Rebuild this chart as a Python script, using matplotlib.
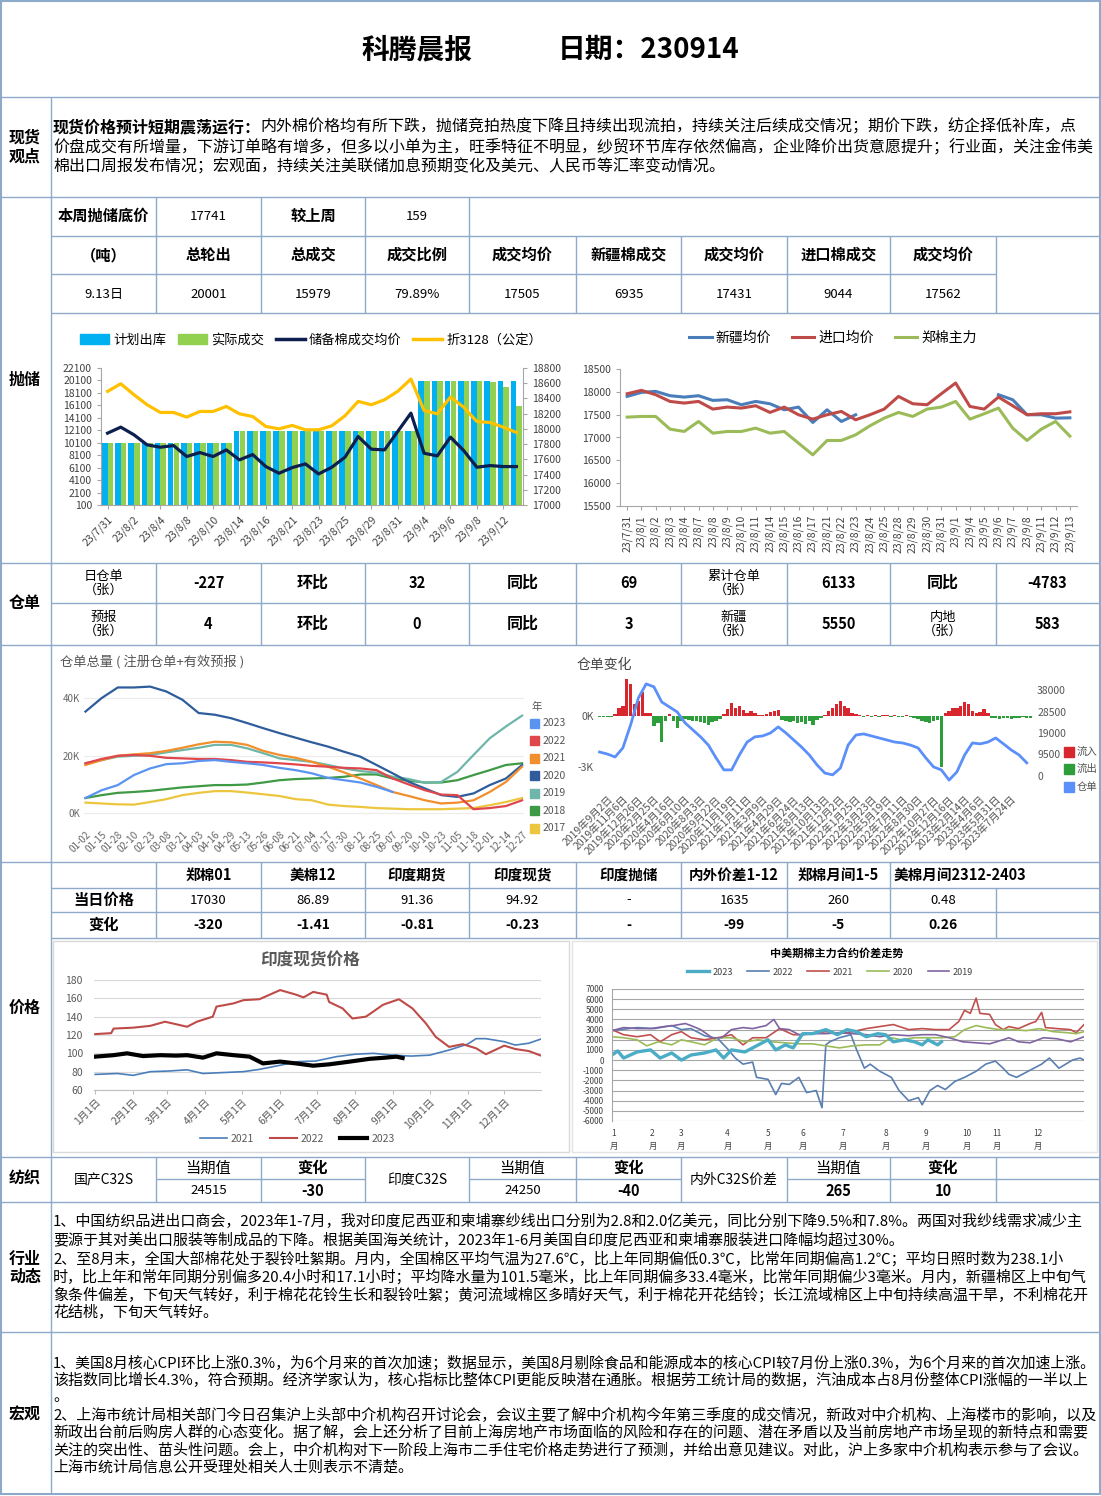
import numpy as np
import matplotlib
matplotlib.use('Agg')
import matplotlib.pyplot as plt
from matplotlib.patches import Rectangle, Patch
from matplotlib.lines import Line2D

plt.rcParams['font.family'] = ['Noto Sans CJK SC', 'DejaVu Sans']
plt.rcParams['axes.unicode_minus'] = False

# ---------------- 表格数据 ----------------
title_name = '科腾晨报'
title_date = '日期：230914'

view_bold = '现货价格预计短期震荡运行：'
view_lines = ['内外棉价格均有所下跌，抛储竞拍热度下降且持续出现流拍，持续关注后续成交情况；期价下跌，纺企择低补库，点',
              '价盘成交有所增量，下游订单略有增多，但多以小单为主，旺季特征不明显，纱贸环节库存依然偏高，企业降价出货意愿提升；行业面，关注金伟美',
              '棉出口周报发布情况；宏观面，持续关注美联储加息预期变化及美元、人民币等汇率变动情况。']

paochu_row1 = ['本周抛储底价', '17741', '较上周', '159']
paochu_head = ['（吨）', '总轮出', '总成交', '成交比例', '成交均价', '新疆棉成交', '成交均价', '进口棉成交', '成交均价']
paochu_vals = ['9.13日', '20001', '15979', '79.89%', '17505', '6935', '17431', '9044', '17562']

cangdan_row1 = ['日仓单\n（张）', '-227', '环比', '32', '同比', '69', '累计仓单\n（张）', '6133', '同比', '-4783']
cangdan_row2 = ['预报\n（张）', '4', '环比', '0', '同比', '3', '新疆\n（张）', '5550', '内地\n（张）', '583']

price_head = ['', '郑棉01', '美棉12', '印度期货', '印度现货', '印度抛储', '内外价差1-12', '郑棉月间1-5', '美棉月间2312-2403']
price_today = ['当日价格', '17030', '86.89', '91.36', '94.92', '-', '1635', '260', '0.48']
price_change = ['变化', '-320', '-1.41', '-0.81', '-0.23', '-', '-99', '-5', '0.26']

yarn_names = ['国产C32S', '印度C32S', '内外C32S价差']
yarn_now = ['24515', '24250', '265']
yarn_chg = ['-30', '-40', '10']

industry_lines = ['1、中国纺织品进出口商会，2023年1-7月，我对印度尼西亚和柬埔寨纱线出口分别为2.8和2.0亿美元，同比分别下降9.5%和7.8%。两国对我纱线需求减少主',
                  '要源于其对美出口服装等制成品的下降。根据美国海关统计，2023年1-6月美国自印度尼西亚和柬埔寨服装进口降幅均超过30%。',
                  '2、至8月末，全国大部棉花处于裂铃吐絮期。月内，全国棉区平均气温为27.6℃，比上年同期偏低0.3℃，比常年同期偏高1.2℃；平均日照时数为238.1小',
                  '时，比上年和常年同期分别偏多20.4小时和17.1小时；平均降水量为101.5毫米，比上年同期偏多33.4毫米，比常年同期偏少3毫米。月内，新疆棉区上中旬气',
                  '象条件偏差，下旬天气转好，利于棉花花铃生长和裂铃吐絮；黄河流域棉区多晴好天气，利于棉花开花结铃；长江流域棉区上中旬持续高温干旱，不利棉花开',
                  '花结桃，下旬天气转好。']

macro_lines = ['1、美国8月核心CPI环比上涨0.3%，为6个月来的首次加速；数据显示，美国8月剔除食品和能源成本的核心CPI较7月份上涨0.3%，为6个月来的首次加速上涨。',
               '该指数同比增长4.3%，符合预期。经济学家认为，核心指标比整体CPI更能反映潜在通胀。根据劳工统计局的数据，汽油成本占8月份整体CPI涨幅的一半以上',
               '。',
               '2、上海市统计局相关部门今日召集沪上头部中介机构召开讨论会，会议主要了解中介机构今年第三季度的成交情况，新政对中介机构、上海楼市的影响，以及',
               '新政出台前后购房人群的心态变化。据了解，会上还分析了目前上海房地产市场面临的风险和存在的问题、潜在矛盾以及当前房地产市场呈现的新特点和需要',
               '关注的突出性、苗头性问题。会上，中介机构对下一阶段上海市二手住宅价格走势进行了预测，并给出意见建议。对此，沪上多家中介机构表示参与了会议。',
               '上海市统计局信息公开受理处相关人士则表示不清楚。']

# ---------------- 图1 抛储 ----------------
dates1 = ['23/7/31', '23/8/1', '23/8/2', '23/8/3', '23/8/4', '23/8/7', '23/8/8', '23/8/9', '23/8/10', '23/8/11',
          '23/8/14', '23/8/15', '23/8/16', '23/8/17', '23/8/21', '23/8/22', '23/8/23', '23/8/24', '23/8/25', '23/8/28',
          '23/8/29', '23/8/30', '23/8/31', '23/9/1', '23/9/4', '23/9/5', '23/9/6', '23/9/7', '23/9/8', '23/9/11',
          '23/9/12', '23/9/13']
plan_out = [10000, 10000, 10000, 10000, 10000, 10000, 10000, 10000, 10000, 10000,
            12000, 12000, 12000, 12000, 12000, 12000, 12000, 12000, 12000, 12000,
            12000, 12000, 12000, 12000, 20000, 20000, 20000, 20000, 20000, 20000,
            20000, 20001]
deal_out = [10000, 10000, 10000, 10000, 10000, 10000, 10000, 10000, 10000, 10000,
            12000, 12000, 12000, 12000, 12000, 12000, 12000, 12000, 12000, 12000,
            12000, 12000, 12000, 12000, 20000, 20000, 20000, 20000, 20000, 19800,
            19100, 15979]
deal_price = [17944, 18023, 17922, 17790, 17759, 17781, 17637, 17689, 17637, 17724,
              17593, 17663, 17505, 17417, 17492, 17540, 17408, 17496, 17628, 17900,
              17733, 17724, 17966, 18207, 17680, 17645, 17891, 17716, 17496, 17518,
              17505, 17505]
price_3128 = [18493, 18593, 18449, 18317, 18216, 18216, 18155, 18229, 18229, 18295,
              18198, 18163, 18032, 18001, 18045, 17988, 17988, 18040, 18172, 18361,
              18317, 18383, 18493, 18655, 18242, 18198, 18418, 18286, 18097, 18084,
              18023, 17953]

# ---------------- 图2 现货价格 ----------------
nan = np.nan
xinjiang_avg = [17900, 17988, 18010, 17915, 17885, 17915, 17812, 17827, 17717, 17790,
                17739, 17607, 17666, 17329, 17607, 17351, 17498, nan, nan, nan,
                nan, nan, nan, nan, nan, nan, 17937, 17827, 17498, 17498,
                17424, 17431]
import_avg = [17958, 18032, 17937, 17790, 17754, 17790, 17622, 17666, 17644, 17695,
              17549, 17666, 17498, 17402, 17498, 17571, 17388, 17498, 17622, 17900,
              17739, 17717, 17958, 18193, 17680, 17622, 17885, 17695, 17498, 17520,
              17520, 17562]
zce_main = [17446, 17461, 17461, 17183, 17132, 17351, 17095, 17132, 17132, 17205,
            17095, 17132, 16876, 16620, 16935, 16935, 17059, 17256, 17424, 17549,
            17461, 17622, 17666, 17790, 17402, 17520, 17644, 17205, 16935, 17183,
            17351, 17030]

# ---------------- 图3 仓单总量 (K) ----------------
labels3 = ['01-02', '01-15', '01-28', '02-10', '02-23', '03-08', '03-21', '04-03', '04-16', '04-29',
           '05-13', '05-26', '06-08', '06-21', '07-04', '07-17', '07-30', '08-12', '08-25', '09-07',
           '09-20', '10-10', '10-23', '11-05', '11-18', '12-01', '12-14', '12-27']
years3 = ['2023', '2022', '2021', '2020', '2019', '2018', '2017']
colors3 = ['#5b94f0', '#e0474c', '#f28e2b', '#2f5d9c', '#6db6a9', '#3e9a45', '#ecc63e']
wr_2023 = [5.2, 7.9, 9.7, 13.2, 15.5, 17.0, 17.3, 18.1, 18.4, 17.8, 17.3, 16.7, 15.7, 14.9, 13.8, 12.2, 11.4, 10.6,
           9.1, 7.3, nan, nan, nan, nan, nan, nan, nan, nan]
wr_2022 = [17.3, 18.8, 19.9, 20.2, 19.9, 19.2, 19.0, 18.8, 18.8, 18.4, 17.8, 17.6, 17.3, 16.9, 16.4, 16.1, 15.7, 15.5,
           14.9, 12.0, 9.9, 7.9, 6.4, 6.2, 1.3, 1.7, 2.4, 4.4]
wr_2021 = [16.7, 18.4, 19.9, 20.4, 20.8, 21.6, 22.7, 23.9, 24.8, 24.6, 23.7, 21.6, 20.2, 19.2, 17.8, 16.1, 14.1, 12.0,
           9.7, 7.3, 5.9, 4.4, 3.3, 3.6, 4.4, 7.3, 10.8, 16.1]
wr_2020 = [35.3, 40.0, 43.7, 43.7, 44.0, 42.3, 39.4, 34.8, 34.2, 33.0, 31.3, 29.5, 27.8, 26.2, 24.6, 23.1, 21.3, 19.6,
           16.7, 13.8, 10.8, 8.5, 6.2, 5.6, 6.8, 9.7, 12.0, 16.7]
wr_2019 = [17.3, 18.4, 19.6, 19.9, 20.2, 21.1, 21.9, 22.7, 23.7, 23.7, 22.5, 20.8, 19.0, 18.4, 17.8, 16.7, 15.5, 14.6,
           14.0, 12.6, 11.8, 10.5, 10.8, 14.3, 20.2, 26.0, 30.1, 33.9]
wr_2018 = [5.2, 6.2, 7.0, 7.3, 7.7, 8.3, 8.9, 9.3, 9.7, 9.7, 9.9, 10.6, 11.4, 11.8, 12.0, 12.2, 12.6, 13.4,
           13.4, 12.0, 11.2, 10.6, 10.6, 11.4, 13.2, 14.9, 16.7, 17.3]
wr_2017 = [3.6, 3.3, 3.0, 2.9, 3.8, 4.8, 6.2, 7.0, 7.6, 7.6, 7.1, 6.5, 5.9, 4.8, 4.4, 2.9, 2.4, 2.1,
           1.7, 1.5, 1.3, 1.3, 1.3, 1.5, 1.7, 2.7, 3.8, 5.2]

# ---------------- 图4 仓单变化 ----------------
labels4 = ['2019年9月2日', '2019年11月6日', '2019年12月26日', '2020年2月25日', '2020年4月16日', '2020年6月10日',
           '2020年8月3日', '2020年9月22日', '2020年11月19日', '2021年1月11日', '2021年3月9日', '2021年4月29日',
           '2021年6月24日', '2021年8月13日', '2021年10月13日', '2021年12月2日', '2022年1月25日', '2022年3月23日',
           '2022年5月19日', '2022年7月11日', '2022年8月30日', '2022年10月27日', '2022年12月16日', '2023年2月14日',
           '2023年4月6日', '2023年5月31日', '2023年7月24日']
# 仓单量(K)，每半个标签间隔一个值
stock4 = [10.6, 9.7, 8.4, 12.4, 22.6, 34.5, 40.7, 39.4, 32.7, 30.5, 28.3, 23.5, 20.4, 17.3, 13.7, 8.0,
          2.7, 2.7, 9.3, 15.0, 17.3, 17.7, 19.0, 21.7, 19.0, 15.9, 12.8, 9.3, 4.9, 1.3, 0.5, 3.5,
          13.7, 18.1, 18.6, 17.7, 16.8, 15.9, 15.0, 14.6, 13.7, 12.4, 8.0, 4.0, 2.7, -1.8, 1.8, 9.3,
          14.6, 14.2, 15.0, 16.8, 14.2, 11.5, 9.3, 5.8]
# 净流入/流出(K)，每1/4标签间隔一个值
flow4 = [-0.05, -0.05, -0.05, -0.05, 0.1, 0.45, 0.6, 2.2, 1.9, 0.7, 0.9, 1.4, 0.2, 0.15, -0.6, -0.4,
         -1.5, -0.3, 0.1, -0.3, -0.7, -0.3, -0.2, -0.25, -0.3, -0.3, -0.35, -0.4, -0.5, -0.35, -0.3, -0.15,
         0.1, 0.4, 0.75, 0.5, 0.6, 0.35, 0.2, 0.3, 0.15, 0.05, 0.05, 0.1, 0.25, 0.3, 0.35, -0.25,
         -0.3, -0.35, -0.3, -0.4, -0.35, -0.45, -0.3, -0.5, -0.25, -0.1, 0.05, 0.3, 0.45, 0.7, 0.9, 0.6,
         0.5, 0.2, 0.1, 0.05, -0.05, 0.05, -0.05, 0.05, -0.05, 0.05, 0.05, -0.05, 0.05, -0.05, -0.05, 0.05,
         -0.05, -0.1, -0.2, -0.3, -0.35, -0.4, -0.3, -0.25, -3.0, 0.2, 0.3, 0.45, 0.5, 0.6, 0.8, 0.7,
         0.3, 0.15, 0.25, 0.4, 0.15, -0.1, -0.1, -0.15, -0.1, -0.1, -0.15, -0.1, -0.1, -0.05, -0.1, -0.1]

# ---------------- 图5 印度现货价格 ----------------
month_days = [0, 31, 59, 90, 120, 151, 181, 212, 243, 273, 304, 334]
month_labels5 = ['1月1日', '2月1日', '3月1日', '4月1日', '5月1日', '6月1日', '7月1日', '8月1日', '9月1日',
                 '10月1日', '11月1日', '12月1日']
day_2021 = [0, 18, 31, 45, 60, 75, 88, 104, 121, 134, 151, 166, 180, 197, 212, 227, 243, 258, 273, 289,
            304, 311, 319, 334, 343, 354, 364]
india_2021 = [77, 78, 76, 80, 80.7, 82, 78, 79, 80, 82.5, 87, 91, 91.6, 96.4, 99, 100, 98, 97, 98, 103.6,
              110, 116, 116, 112.7, 109, 111, 115.6]
day_2022 = [0, 13, 15, 31, 45, 57, 75, 83, 96, 99, 113, 121, 134, 151, 164, 170, 178, 189, 191, 202,
            210, 221, 227, 235, 248, 259, 270, 278, 289, 300, 311, 319, 327, 334, 343, 354, 364]
india_2022 = [121, 122, 127, 128, 130, 134.5, 129, 134.5, 140, 151, 154.5, 158, 159, 169, 164, 161, 167, 164,
              156, 149, 138, 140, 145.5, 153, 159, 149, 132.7, 118, 107, 110, 105.5, 99, 104, 108.4, 104.7,
              102.5, 97.5]
day_2023 = [0, 15, 26, 39, 53, 66, 75, 88, 99, 113, 126, 137, 151, 164, 178, 191, 208, 224, 237, 246, 251]
india_2023 = [96.4, 98, 100, 97, 98, 97.5, 98, 95.3, 100, 98, 96.4, 89, 91, 89, 86.5, 88, 91, 94, 95.3,
              96.4, 94.9]

# ---------------- 图6 中美期棉价差 ----------------
month_idx6 = [1, 21, 36, 60, 81, 99, 120, 142, 163, 184, 200, 221]
month_labels6 = ['1\n月', '2\n月', '3\n月', '4\n月', '5\n月', '6\n月', '7\n月', '8\n月', '9\n月', '10\n月',
                 '11\n月', '12\n月']
sx_2023 = [0, 3, 6, 13, 20, 25, 31, 36, 41, 48, 54, 58, 62, 69, 76, 81, 85, 90, 94, 99, 104, 111, 117,
           122, 127, 132, 138, 142, 146, 152, 157, 161, 164, 169, 171]
sp_2023 = [500, 900, 200, 800, 1000, 200, 700, 0, 500, 700, 1000, 200, 1000, 800, 1500, 2000, 1000, 1500,
           1200, 2600, 2600, 3000, 2500, 3000, 2800, 2300, 2600, 2500, 1800, 2000, 1800, 1500, 2000, 1500, 1800]
sx_2022 = [0, 13, 22, 31, 36, 41, 48, 55, 60, 64, 68, 73, 75, 81, 85, 88, 92, 97, 101, 106, 109, 111, 113,
           118, 124, 127, 131, 134, 139, 145, 149, 154, 159, 161, 165, 169, 173, 178, 183, 189, 194, 199, 203,
           206, 210, 213, 218, 223, 227, 232, 239, 243, 245]
sp_2022 = [2900, 3200, 3100, 3400, 3000, 3100, 2400, 2100, 1100, 200, -400, -200, -1700, -1900, -3400, -2300,
           -2400, -1700, -3200, -3000, -4700, 1500, 1800, 2200, 2500, 1000, -800, -400, -1100, -1700, -3000,
           -4000, -3700, -4400, -3000, -2500, -2900, -2100, -1700, -1100, -400, -100, -800, -1400, -1700, -1400,
           -900, -400, 200, -800, 0, 200, 0]
sx_2021 = [0, 6, 13, 20, 25, 31, 36, 41, 48, 55, 62, 68, 73, 80, 87, 94, 99, 104, 111, 118, 125, 132, 139,
           146, 154, 161, 168, 175, 180, 183, 186, 189, 191, 196, 199, 203, 206, 211, 217, 220, 223, 225, 231,
           238, 241, 245]
sp_2021 = [3000, 2500, 2300, 2500, 1800, 2500, 2800, 2200, 2000, 2200, 2500, 1500, 2200, 2200, 3100, 2500,
           2500, 2600, 2800, 2600, 2800, 3100, 3300, 3500, 3000, 3100, 3000, 3000, 3800, 4900, 4600, 6100, 4600,
           4500, 3500, 3000, 3300, 3100, 3600, 3800, 4700, 3200, 3100, 3000, 2700, 3500]
sx_2020 = [0, 6, 13, 18, 24, 31, 36, 41, 48, 55, 62, 69, 76, 83, 90, 97, 104, 111, 118, 125, 132, 139, 145,
           150, 157, 164, 171, 178, 183, 189, 194, 201, 208, 215, 222, 229, 236, 241, 245]
sp_2020 = [2300, 2200, 2000, 1400, 1800, 1500, 2000, 1800, 1500, 2200, 2200, 1800, 2000, 1800, 1700, 1600,
           1600, 1400, 1200, 1400, 1500, 1500, 2200, 2000, 2200, 2200, 2200, 2300, 3000, 3400, 3200, 3000, 3000,
           2900, 3100, 2800, 2700, 2600, 2800]
sx_2019 = [0, 6, 13, 20, 27, 32, 38, 41, 46, 52, 57, 62, 68, 73, 80, 84, 87, 92, 97, 104, 111, 118, 125, 132,
           139, 146, 154, 161, 168, 175, 182, 189, 196, 203, 206, 211, 217, 224, 231, 238, 245]
sp_2019 = [2900, 3200, 3100, 3100, 3300, 3400, 3600, 3400, 3000, 2200, 2200, 3000, 3200, 3100, 3400, 4000,
           3100, 3000, 2500, 2600, 2600, 2700, 2600, 2500, 2300, 2500, 2400, 2500, 2500, 2200, 1800, 1700, 1600,
           2000, 2200, 1800, 1700, 2200, 2100, 1800, 2300]

# ---------------- 画布 ----------------
W, H = 1101, 1496
fig = plt.figure(figsize=(W / 100, H / 100), dpi=100)
bg = fig.add_axes([0, 0, 1, 1])
bg.set_xlim(0, W)
bg.set_ylim(H, 0)
bg.axis('off')

LINE = '#8eaacb'
fit_list = []


def hl(y, x0=0, x1=W):
    bg.plot([x0, x1], [y, y], color=LINE, lw=1, zorder=5, solid_capstyle='butt')


def vl(x, y0, y1):
    bg.plot([x, x], [y0, y1], color=LINE, lw=1, zorder=5, solid_capstyle='butt')


def txt(x, y, s, size=10, bold=False, ha='center', color='black', **kw):
    return bg.text(x, y, s, fontsize=size, fontweight='bold' if bold else 'normal',
                   ha=ha, va='center', color=color, **kw)


def new_ax(x0, y0, x1, y1):
    ax = fig.add_axes([x0 / W, 1 - y1 / H, (x1 - x0) / W, (y1 - y0) / H])
    ax.set_facecolor('none')
    return ax


def style_ax(ax, spines=('left', 'bottom'), color='#a6a6a6', lab='#404040', size=7.5):
    for s in ax.spines:
        ax.spines[s].set_visible(s in spines)
        ax.spines[s].set_color(color)
    ax.tick_params(colors=color, labelcolor=lab, labelsize=size, length=3, width=0.8)


# 外框与分区线
bg.add_patch(Rectangle((1, 1), W - 2, H - 3, fill=False, edgecolor=LINE, lw=1.5, zorder=5))
for y in [97, 197, 563, 645, 862, 1157, 1202, 1332]:
    hl(y)
vl(51, 97, H - 2)

cols = [51, 156, 261, 365, 469, 576, 681, 787, 890, 996, 1099]
mid = [(cols[i] + cols[i + 1]) / 2 for i in range(10)]

# 标题
txt(417, 50, title_name, size=20, bold=True)
txt(558, 50, title_date, size=20, bold=True, ha='left')

# 左侧栏标签
txt(25, 147, '现货\n观点', size=11.5, bold=True, linespacing=1.25)
txt(25, 380, '抛储', size=11.5, bold=True)
txt(25, 603, '仓单', size=11.5, bold=True)
txt(25, 1008, '价格', size=11.5, bold=True)
txt(25, 1179, '纺织', size=11.5, bold=True)
txt(25, 1268, '行业\n动态', size=11.5, bold=True, linespacing=1.2)
txt(25, 1415, '宏观', size=11.5, bold=True)

# 现货观点
vfs = 11.5
txt(53, 127, view_bold, size=vfs, bold=True, ha='left')
off = len(view_bold) * vfs * 100 / 72
fit_list.append((txt(53 + off, 127, view_lines[0], size=vfs, ha='left'), 1097 - 53 - off))
for y, s in zip([147, 167], view_lines[1:]):
    fit_list.append((txt(53, y, s, size=vfs, ha='left'), 1044))

# 抛储表
for x in cols[1:5]:
    vl(x, 197, 236)
hl(236, 51, 1099)
hl(274, 51, 996)
hl(313, 51, 1099)
for x in cols[1:10]:
    vl(x, 236, 313)
for i, s in enumerate(paochu_row1):
    txt(mid[i], 216, s, size=11 if i % 2 == 0 else 9.5, bold=(i % 2 == 0))
for i, s in enumerate(paochu_head):
    txt(mid[i], 255, s, size=11, bold=True)
for i, s in enumerate(paochu_vals):
    txt(mid[i], 294, s, size=9.5)

# 仓单表
for x in cols[1:10]:
    vl(x, 563, 645)
hl(603, 51, 1099)
for y, row in [(583, cangdan_row1), (624, cangdan_row2)]:
    for i, s in enumerate(row):
        if '\n' in s:
            txt(mid[i], y, s, size=9.5, linespacing=1.05)
        elif s in ('同比', '环比'):
            txt(mid[i], y, s, size=11.5, bold=True)
        else:
            txt(mid[i], y, s, size=10.5, bold=True)

# 价格表
hl(888, 51, 1099)
hl(912, 51, 1099)
hl(938, 51, 1099)
for x in cols[1:9]:
    vl(x, 862, 938)
vl(996, 888, 938)
for i, s in enumerate(price_head):
    if i == 8:
        txt(894, 875, s, size=10.5, bold=True, ha='left')
    else:
        txt(mid[i], 875, s, size=10.5, bold=True)
for i, s in enumerate(price_today):
    txt(mid[i], 900, s, size=11 if i == 0 else 9.5, bold=(i == 0))
for i, s in enumerate(price_change):
    txt(mid[i], 925, s, size=11 if i == 0 else 10, bold=True)

# 纺织表
for x in cols[1:10]:
    vl(x, 1157, 1202)
for a, b in [(156, 365), (469, 681), (787, 1099)]:
    hl(1179, a, b)
for k in range(3):
    c = 3 * k
    txt(mid[c], 1180, yarn_names[k], size=10)
    txt(mid[c + 1], 1168, '当期值', size=11)
    txt(mid[c + 2], 1168, '变化', size=11, bold=True)
    txt(mid[c + 1], 1191, yarn_now[k], size=10.5 if k == 2 else 9.5, bold=(k == 2))
    txt(mid[c + 2], 1191, yarn_chg[k], size=10.5, bold=True)

# 行业动态 与 宏观
for y, s in zip([1221, 1240, 1259, 1277, 1295, 1313], industry_lines):
    fit_list.append((txt(53, y, s, size=10.8, ha='left'), 1044))
for y, s in zip([1363, 1380, 1397, 1415, 1432, 1450, 1467], macro_lines):
    fit_list.append((txt(53, y, s, size=10.8, ha='left'), 1044))

# ---------------- 图1 ----------------
ax1 = new_ax(101, 368, 523, 505)
x1 = np.arange(len(dates1))
ax1.bar(x1 - 0.215, plan_out, width=0.42, color='#00b0f0', zorder=2)
ax1.bar(x1 + 0.215, deal_out, width=0.42, color='#92d050', zorder=2)
ax1.set_xlim(-0.5, len(dates1) - 0.5)
ax1.set_ylim(100, 22100)
ax1.set_yticks(np.arange(100, 22101, 2000))
ax1.set_xticks(x1[::2])
ax1.set_xticklabels(dates1[::2], rotation=45, ha='right', rotation_mode='anchor')
style_ax(ax1)
ax1r = ax1.twinx()
ax1r.plot(x1, deal_price, color='#0d1f4f', lw=2.3)
ax1r.plot(x1, price_3128, color='#ffc000', lw=2.3)
ax1r.set_ylim(17000, 18800)
ax1r.set_yticks(np.arange(17000, 18801, 200))
style_ax(ax1r, spines=('right',))
h1 = [Patch(color='#00b0f0'), Patch(color='#92d050'),
      Line2D([], [], color='#0d1f4f', lw=2.5), Line2D([], [], color='#ffc000', lw=2.5)]
ax1r.legend(h1, ['计划出库', '实际成交', '储备棉成交均价', '折3128（公定）'], loc='center',
            bbox_to_anchor=(311 / W, 1 - 340 / H), bbox_transform=fig.transFigure, ncol=4,
            frameon=False, fontsize=9.5, handlelength=2.2, handleheight=0.8, columnspacing=0.9,
            handletextpad=0.3)

# ---------------- 图2 ----------------
ax2 = new_ax(620, 369, 1077, 506)
x2 = np.arange(len(dates1))
ax2.plot(x2, xinjiang_avg, color='#4a7ebb', lw=2.2)
ax2.plot(x2, import_avg, color='#be4b48', lw=2.2)
ax2.plot(x2, zce_main, color='#9bbb59', lw=2.2)
ax2.set_xlim(-0.5, len(dates1) - 0.5)
ax2.set_ylim(15500, 18500)
ax2.set_yticks(np.arange(15500, 18501, 500))
ax2.set_xticks(x2)
ax2.set_xticklabels(dates1, rotation=90)
style_ax(ax2)
ax2.legend(['新疆均价', '进口均价', '郑棉主力'], loc='center', bbox_to_anchor=(833 / W, 1 - 338 / H),
           bbox_transform=fig.transFigure, ncol=3, frameon=False, fontsize=10, handlelength=1.6,
           columnspacing=1.5, handletextpad=0.3)

# ---------------- 图3 ----------------
ax3 = new_ax(84, 680, 524, 825)
u3 = np.arange(len(labels3))
series3 = [wr_2023, wr_2022, wr_2021, wr_2020, wr_2019, wr_2018, wr_2017]
for vals, c in list(zip(series3, colors3))[::-1]:
    ax3.plot(u3, vals, color=c, lw=1.6)
ax3.set_xlim(-0.09, 27.12)
ax3.set_ylim(-4.2, 46.3)
ax3.set_yticks([0, 20, 40])
ax3.set_yticklabels(['0K', '20K', '40K'])
ax3.set_xticks(u3)
ax3.set_xticklabels(labels3, rotation=45, ha='right', rotation_mode='anchor')
ax3.grid(axis='y', color='#ececec', lw=0.8)
ax3.set_axisbelow(True)
style_ax(ax3, spines=(), lab='#666666', size=7)
ax3.tick_params(length=0, pad=3)
txt(60, 662, '仓单总量 ( 注册仓单+有效预报 )', size=9.5, ha='left', color='#555555')
txt(532, 707, '年', size=7.5, ha='left', color='#555555')
for k, (yr, c) in enumerate(zip(years3, colors3)):
    yy = 723 + k * 17.5
    bg.add_patch(Rectangle((530, yy - 4.5), 9, 9, color=c, zorder=6))
    txt(543, yy, yr, size=7.5, ha='left', color='#555555')

# ---------------- 图4 ----------------
ax4 = new_ax(598, 672, 1033, 790)
uf = np.arange(len(flow4)) * 0.25 - 0.5
ax4.bar(uf, flow4, width=0.22, color=['#d8262e' if v > 0 else '#2e9e3a' for v in flow4], zorder=2)
ax4.set_xlim(-0.6, 27.4)
ax4.set_ylim(-4.35, 2.59)
ax4.set_yticks([0, -3])
ax4.set_yticklabels(['0K', '-3K'])
ax4.set_xticks(np.arange(len(labels4)))
ax4.set_xticklabels(labels4, rotation=45, ha='right', rotation_mode='anchor')
style_ax(ax4, spines=(), lab='#555555', size=7.5)
ax4.tick_params(length=0, pad=3)
ax4r = ax4.twinx()
us = np.arange(len(stock4)) * 0.5 - 0.5
ax4r.plot(us, np.array(stock4) * 1000, color='#5b8ff9', lw=2)
ax4r.set_ylim(-6190, 45960)
ax4r.set_yticks([0, 9500, 19000, 28500, 38000])
style_ax(ax4r, spines=(), lab='#555555', size=7.5)
ax4r.tick_params(length=0, pad=3)
txt(577, 665, '仓单变化', size=10, ha='left', color='#444444')
for yy, c, s in [(752, '#d8262e', '流入'), (769, '#2e9e3a', '流出'), (787, '#5b8ff9', '仓单')]:
    bg.add_patch(Rectangle((1064, yy - 5), 10, 10, color=c, zorder=6))
    txt(1077, yy, s, size=7.5, ha='left', color='#555555')

# ---------------- 图5 ----------------
bg.add_patch(Rectangle((53, 941), 516, 211, fill=False, edgecolor='#d9d9d9', lw=1, zorder=4))
ax5 = new_ax(94, 980, 541, 1090)
ax5.plot(day_2021, india_2021, color='#4a7ebb', lw=1.2)
ax5.plot(day_2022, india_2022, color='#be4b48', lw=1.5)
ax5.plot(day_2023, india_2023, color='black', lw=3)
ax5.set_xlim(-1, 364)
ax5.set_ylim(60, 180)
ax5.set_yticks(np.arange(60, 181, 20))
ax5.set_xticks(month_days)
ax5.set_xticklabels(month_labels5, rotation=45, ha='right', rotation_mode='anchor')
ax5.grid(axis='y', color='#d9d9d9', lw=0.8)
ax5.set_axisbelow(True)
style_ax(ax5, spines=('bottom',), color='#bfbfbf', lab='#595959', size=7.5)
ax5.tick_params(axis='y', length=0, pad=8)
ax5.tick_params(axis='x', pad=2)
txt(310, 960, '印度现货价格', size=12, bold=True, color='#595959')
ax5.legend(['2021', '2022', '2023'], loc='center', bbox_to_anchor=(297 / W, 1 - 1139 / H),
           bbox_transform=fig.transFigure, ncol=3, frameon=False, fontsize=7.5, handlelength=2.6,
           columnspacing=1.5, handletextpad=0.4, labelcolor='#595959')

# ---------------- 图6 ----------------
bg.add_patch(Rectangle((572, 941), 525, 211, fill=False, edgecolor='#e3e3e3', lw=1, zorder=4))
ax6 = new_ax(612, 989, 1084, 1121)
ax6.plot(sx_2022, sp_2022, color='#5a7fb0', lw=1.2, label='2022')
ax6.plot(sx_2021, sp_2021, color='#c0504d', lw=1.2, label='2021')
ax6.plot(sx_2020, sp_2020, color='#9bbb59', lw=1.2, label='2020')
ax6.plot(sx_2019, sp_2019, color='#8064a2', lw=1.2, label='2019')
ax6.plot(sx_2023, sp_2023, color='#4bacc6', lw=2.4, label='2023')
ax6.set_xlim(0, 245)
ax6.set_ylim(-6000, 7000)
ax6.set_yticks(np.arange(-6000, 7001, 1000))
ax6.set_xticks(month_idx6)
ax6.set_xticklabels(month_labels6, linespacing=1.5)
ax6.grid(axis='y', color='#a6a6a6', lw=0.8)
ax6.set_axisbelow(True)
style_ax(ax6, spines=('left',), color='#a6a6a6', lab='#404040', size=6)
ax6.tick_params(length=0, pad=6)
txt(837, 953, '中美期棉主力合约价差走势', size=8, bold=True)
hs, ls = ax6.get_legend_handles_labels()
order = [4, 0, 1, 2, 3]
ax6.legend([hs[i] for i in order], [ls[i] for i in order], loc='center',
           bbox_to_anchor=(830 / W, 1 - 972 / H), bbox_transform=fig.transFigure, ncol=5,
           frameon=False, fontsize=6.5, handlelength=2.4, columnspacing=1.6, handletextpad=0.4,
           labelcolor='#404040')

# 长文本行防溢出
fig.canvas.draw()
r = fig.canvas.get_renderer()
for t, maxw in fit_list:
    w = t.get_window_extent(r).width
    if w > maxw:
        t.set_fontsize(t.get_fontsize() * maxw / w)

fig.savefig('out.png', dpi=100)
